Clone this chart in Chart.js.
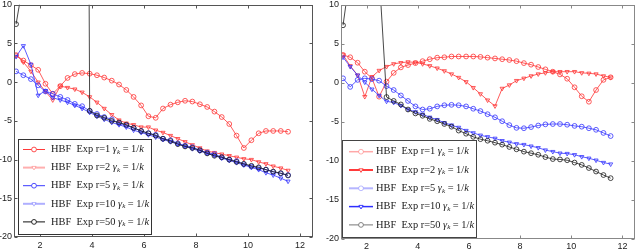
<!DOCTYPE html>
<html>
<head>
<meta charset="utf-8">
<script src="https://cdn.jsdelivr.net/npm/chart.js@4.4.1/dist/chart.umd.min.js"></script>
<style>
  html, body { margin: 0; padding: 0; background: #fff; }
  #wrap { position: relative; width: 640px; height: 249px; overflow: hidden; }
  .panel { position: absolute; top: 0; width: 320px; height: 249px; }
</style>
</head>
<body>
<div id="wrap">
  <div class="panel" style="left:0"><canvas id="leftChart" width="320" height="249"></canvas></div>
  <div class="panel" style="left:320px"><canvas id="rightChart" width="320" height="249"></canvas></div>
</div>
<script>
// iteration axis (shared by every series)
var xs = [1.08, 1.36, 1.65, 1.93, 2.21, 2.49, 2.78, 3.06, 3.34, 3.62, 3.91, 4.19, 4.47, 4.76, 5.04, 5.32, 5.60, 5.89, 6.17,
          6.45, 6.73, 7.02, 7.30, 7.58, 7.86, 8.15, 8.43, 8.71, 8.99, 9.28, 9.56, 9.84, 10.13, 10.41, 10.69, 10.97, 11.26, 11.54];
var xTicks = [2, 4, 6, 8, 10, 12];
var yTicks = [-20, -15, -10, -5, 0, 5, 10];
var rValues = [1, 2, 5, 10, 50];

// left panel
var leftR1  = [3.5, 2.8, 2.2, 1.6, -0.2, -1.5, -0.5, 0.55, 1.05, 1.2, 1.1, 0.9, 0.6, 0.2, -0.3, -1.0, -1.9, -3.0, -4.4,
               -4.6, -3.4, -2.9, -2.6, -2.4, -2.5, -2.85, -3.2, -3.8, -4.5, -5.4, -6.9, -8.5, -7.5, -6.6, -6.3, -6.3, -6.3, -6.4];
var leftR2  = [3.5, 2.6, 1.4, 0.0, -1.2, -2.3, -0.5, -0.7, -0.9, -1.3, -1.9, -2.6, -3.4, -4.2, -4.9, -5.3, -5.5, -5.8, -5.8,
               -6.2, -6.5, -6.9, -7.3, -7.7, -8.1, -8.5, -8.9, -9.1, -9.3, -9.5, -9.7, -9.9, -10.0, -10.3, -10.55, -10.85, -11.1, -11.4];
var leftR5  = [1.4, 0.9, 0.4, -0.4, -1.2, -1.5, -1.9, -2.3, -2.8, -3.1, -3.7, -4.1, -4.5, -4.8, -5.3, -5.6, -5.9, -6.3, -6.6,
               -6.8, -7.3, -7.5, -7.9, -8.2, -8.4, -8.8, -9.1, -9.3, -9.7, -10.0, -10.2, -10.6, -10.9, -11.1, -11.3, -11.6, -11.8, -12.0];
var leftR10 = [3.3, 4.7, 2.3, -1.7, -1.1, -2.0, -2.3, -2.6, -3.0, -3.4, -3.9, -4.4, -4.8, -5.2, -5.5, -5.8, -6.2, -6.5, -6.8,
               -7.1, -7.4, -7.7, -8.0, -8.3, -8.6, -8.9, -9.2, -9.5, -9.8, -10.1, -10.4, -10.7, -11.0, -11.3, -11.7, -12.0, -12.4, -12.8];
var leftR50 = [7.5, 13, 30, 50, 70, 90, 110, 130, 160, 200, -3.7, -4.3, -4.6, -5.0, -5.2, -5.5, -5.9, -6.3, -6.6,
               -6.9, -7.3, -7.6, -8.0, -8.3, -8.5, -8.8, -9.2, -9.5, -9.7, -10.0, -10.3, -10.55, -10.8, -11.0, -11.3, -11.55, -11.75, -12.05];

// right panel
var rightR1  = [3.6, 3.3, 2.6, 1.45, 0.6, -1.75, 0.17, 1.3, 2.0, 2.3, 2.55, 2.8, 3.05, 3.25, 3.3, 3.4, 3.4, 3.4, 3.4,
                3.35, 3.25, 3.15, 3.05, 2.95, 2.8, 2.55, 2.35, 2.05, 1.75, 1.45, 1.1, 0.55, -0.55, -1.7, -2.4, -0.9, 0.4, 0.73];
var rightR2  = [3.6, 2.2, 1.0, -1.75, 0.8, 1.6, 2.1, 2.45, 2.6, 2.7, 2.65, 2.45, 2.2, 1.9, 1.55, 1.15, 0.7, 0.15, -0.6,
                -1.4, -2.2, -2.95, -0.7, -0.26, 0.3, 0.6, 0.9, 1.15, 1.3, 1.45, 1.45, 1.45, 1.45, 1.3, 1.24, 1.15, 0.9, 0.73];
var rightR5  = [0.6, -0.5, 0.4, 0.6, 0.5, 0.3, -0.4, -0.9, -1.6, -2.3, -3.0, -3.4, -3.3, -3.0, -2.85, -2.8, -2.85, -3.0, -3.3,
                -3.6, -4.0, -4.4, -4.9, -5.4, -5.75, -5.8, -5.65, -5.45, -5.3, -5.26, -5.26, -5.35, -5.5, -5.6, -5.8, -6.0, -6.4, -6.8];
var rightR10 = [3.3, 2.1, 1.0, 0.1, -0.8, -1.6, -2.35, -2.5, -2.9, -3.4, -3.7, -4.0, -4.4, -4.7, -5.1, -5.4, -5.7, -6.1, -6.4,
                -6.7, -6.9, -7.1, -7.4, -7.6, -7.8, -7.9, -8.1, -8.3, -8.6, -8.8, -9.0, -9.05, -9.2, -9.45, -9.65, -9.9, -10.2, -10.4];
var rightR50 = [7.4, 14, 20, 25, 20, 14, -1.8, -2.3, -2.75, -3.4, -3.9, -4.2, -4.6, -4.9, -5.25, -5.6, -6.1, -6.5, -6.9,
                -7.2, -7.4, -7.65, -7.9, -8.2, -8.5, -8.8, -9.0, -9.2, -9.5, -9.75, -9.8, -9.9, -10.2, -10.5, -10.9, -11.35, -11.8, -12.2];

var RED = '#ff3434', BLUE = '#3434ff', BLACK = '#1a1a1a';
var lineColors = [RED, RED, BLUE, BLUE, BLACK];
var markers = ['circle', 'triangle', 'circle', 'triangle', 'circle'];

// MATLAB-like box with inward ticks, plus the legend on top
var framePlugin = {
  id: 'frame',
  afterDraw: function(chart, args, opts) {
    var ctx = chart.ctx, a = chart.chartArea;
    var sx = chart.scales.x, sy = chart.scales.y;
    var L = Math.round(a.left) + 0.5, R = Math.round(a.right) - 0.5;
    var T = Math.round(a.top) + 0.5, B = Math.round(a.bottom) - 0.5;
    ctx.save();
    ctx.strokeStyle = opts.color;
    ctx.lineWidth = 1;
    ctx.strokeRect(L, T, R - L, B - T);
    ctx.beginPath();
    xTicks.forEach(function(v) {
      var p = Math.round(sx.getPixelForValue(v)) + 0.5;
      ctx.moveTo(p, B); ctx.lineTo(p, B - 3);
      ctx.moveTo(p, T); ctx.lineTo(p, T + 3);
    });
    yTicks.forEach(function(v) {
      var p = Math.round(sy.getPixelForValue(v)) + 0.5;
      ctx.moveTo(L, p); ctx.lineTo(L + 3, p);
      ctx.moveTo(R, p); ctx.lineTo(R - 3, p);
    });
    ctx.stroke();
    drawLegend(chart, opts.legend);
    ctx.restore();
  }
};

function drawLabel(ctx, x, y, r) {
  var parts = [
    ['HBF  Exp r=' + r + ' ', '10.4px "Liberation Serif"', 0],
    ['\u03b3', 'italic 10.4px "Liberation Serif"', 0],
    ['k', 'italic 7px "Liberation Serif"', 2.5],
    [' = 1/', '10.4px "Liberation Serif"', 0],
    ['k', 'italic 10.4px "Liberation Serif"', 0]
  ];
  ctx.fillStyle = '#1a1a1a';
  ctx.textBaseline = 'middle';
  ctx.textAlign = 'left';
  parts.forEach(function(p) {
    ctx.font = p[1];
    ctx.fillText(p[0], x, y + p[2]);
    x += ctx.measureText(p[0]).width;
  });
}

function drawLegend(chart, lg) {
  var ctx = chart.ctx;
  ctx.fillStyle = '#fff';
  ctx.fillRect(lg.x, lg.y, lg.w, lg.h);
  ctx.strokeStyle = lg.border;
  ctx.lineWidth = 1;
  ctx.strokeRect(lg.x, lg.y, lg.w, lg.h);
  chart.data.datasets.forEach(function(ds, i) {
    var y = lg.y0 + i * lg.dy;
    ctx.strokeStyle = lg.colors[i];
    ctx.lineWidth = lg.widths[i];
    ctx.beginPath();
    ctx.moveTo(lg.lx0, y); ctx.lineTo(lg.lx1, y);
    ctx.stroke();
    ctx.lineWidth = 0.9;
    ctx.fillStyle = '#fff';
    Chart.helpers.drawPoint(ctx, { pointStyle: ds.pointStyle, radius: 2.4, rotation: ds.pointRotation, borderWidth: 0.9 },
                            (lg.lx0 + lg.lx1) / 2, y);
    drawLabel(ctx, lg.tx, y, rValues[i]);
  });
}

function makeChart(id, series, box) {
  var datasets = series.map(function(s, i) {
    return {
      label: 'HBF Exp r=' + rValues[i],
      data: xs.map(function(x, j) { return { x: x, y: s[j] }; }),
      borderColor: lineColors[i],
      borderWidth: 0.8,
      pointStyle: markers[i],
      pointRotation: markers[i] === 'triangle' ? 180 : 0,
      pointRadius: 2.4,
      pointBorderWidth: 0.8,
      pointBorderColor: lineColors[i],
      pointBackgroundColor: 'rgba(0,0,0,0)',
      tension: 0,
      order: 4 - i
    };
  });
  var tickFont = { family: '"Liberation Sans", Arial, sans-serif', size: 9 };
  return new Chart(document.getElementById(id), {
    type: 'line',
    data: { datasets: datasets },
    options: {
      responsive: false,
      animation: false,
      events: [],
      layout: { padding: box.padding },
      plugins: { legend: { display: false }, tooltip: { enabled: false }, frame: box.frame },
      scales: {
        x: {
          type: 'linear', min: 1, max: 12.5,
          grid: { display: false, drawTicks: false }, border: { display: false },
          afterBuildTicks: function(s) { s.ticks = xTicks.map(function(v) { return { value: v }; }); },
          afterFit: function(s) { s.height = box.xh; s.paddingLeft = 0; s.paddingRight = 0; },
          ticks: { font: tickFont, color: '#222', padding: box.xpad, maxRotation: 0, autoSkip: false }
        },
        y: {
          type: 'linear', min: -20, max: 10,
          grid: { display: false, drawTicks: false }, border: { display: false },
          afterBuildTicks: function(s) { s.ticks = yTicks.map(function(v) { return { value: v }; }); },
          afterFit: function(s) { s.width = box.yw; s.paddingTop = 0; s.paddingBottom = 0; },
          ticks: { font: tickFont, color: '#222', padding: 2, autoSkip: false }
        }
      }
    },
    plugins: [framePlugin]
  });
}

makeChart('leftChart', [leftR1, leftR2, leftR5, leftR10, leftR50], {
  padding: { left: 0, top: 3, right: 7, bottom: 0 }, xh: 12, yw: 14, xpad: 3.5,
  frame: {
    color: '#555',
    legend: {
      x: 18.5, y: 139.5, w: 133, h: 95, lx0: 23, lx1: 45, tx: 51, y0: 149.5, dy: 18.1, border: '#333',
      colors: ['#ff3a3a', 'rgba(255,110,110,0.55)', '#3a3aff', 'rgba(110,110,255,0.55)', '#111'],
      widths: [1, 2, 1, 2, 1]
    }
  }
});

makeChart('rightChart', [rightR1, rightR2, rightR5, rightR10, rightR50], {
  padding: { left: 0, top: 5, right: 3, bottom: 0 }, xh: 10, yw: 21, xpad: 2,
  frame: {
    color: '#888',
    legend: {
      x: 22.5, y: 140.5, w: 134, h: 97, lx0: 29, lx1: 53, tx: 56, y0: 151.7, dy: 18.3, border: '#444',
      colors: ['rgba(255,110,110,0.6)', '#ff3a3a', 'rgba(120,120,255,0.55)', '#2e2eff', '#777'],
      widths: [1.5, 2, 2, 1.5, 1]
    }
  }
});
</script>
</body>
</html>
